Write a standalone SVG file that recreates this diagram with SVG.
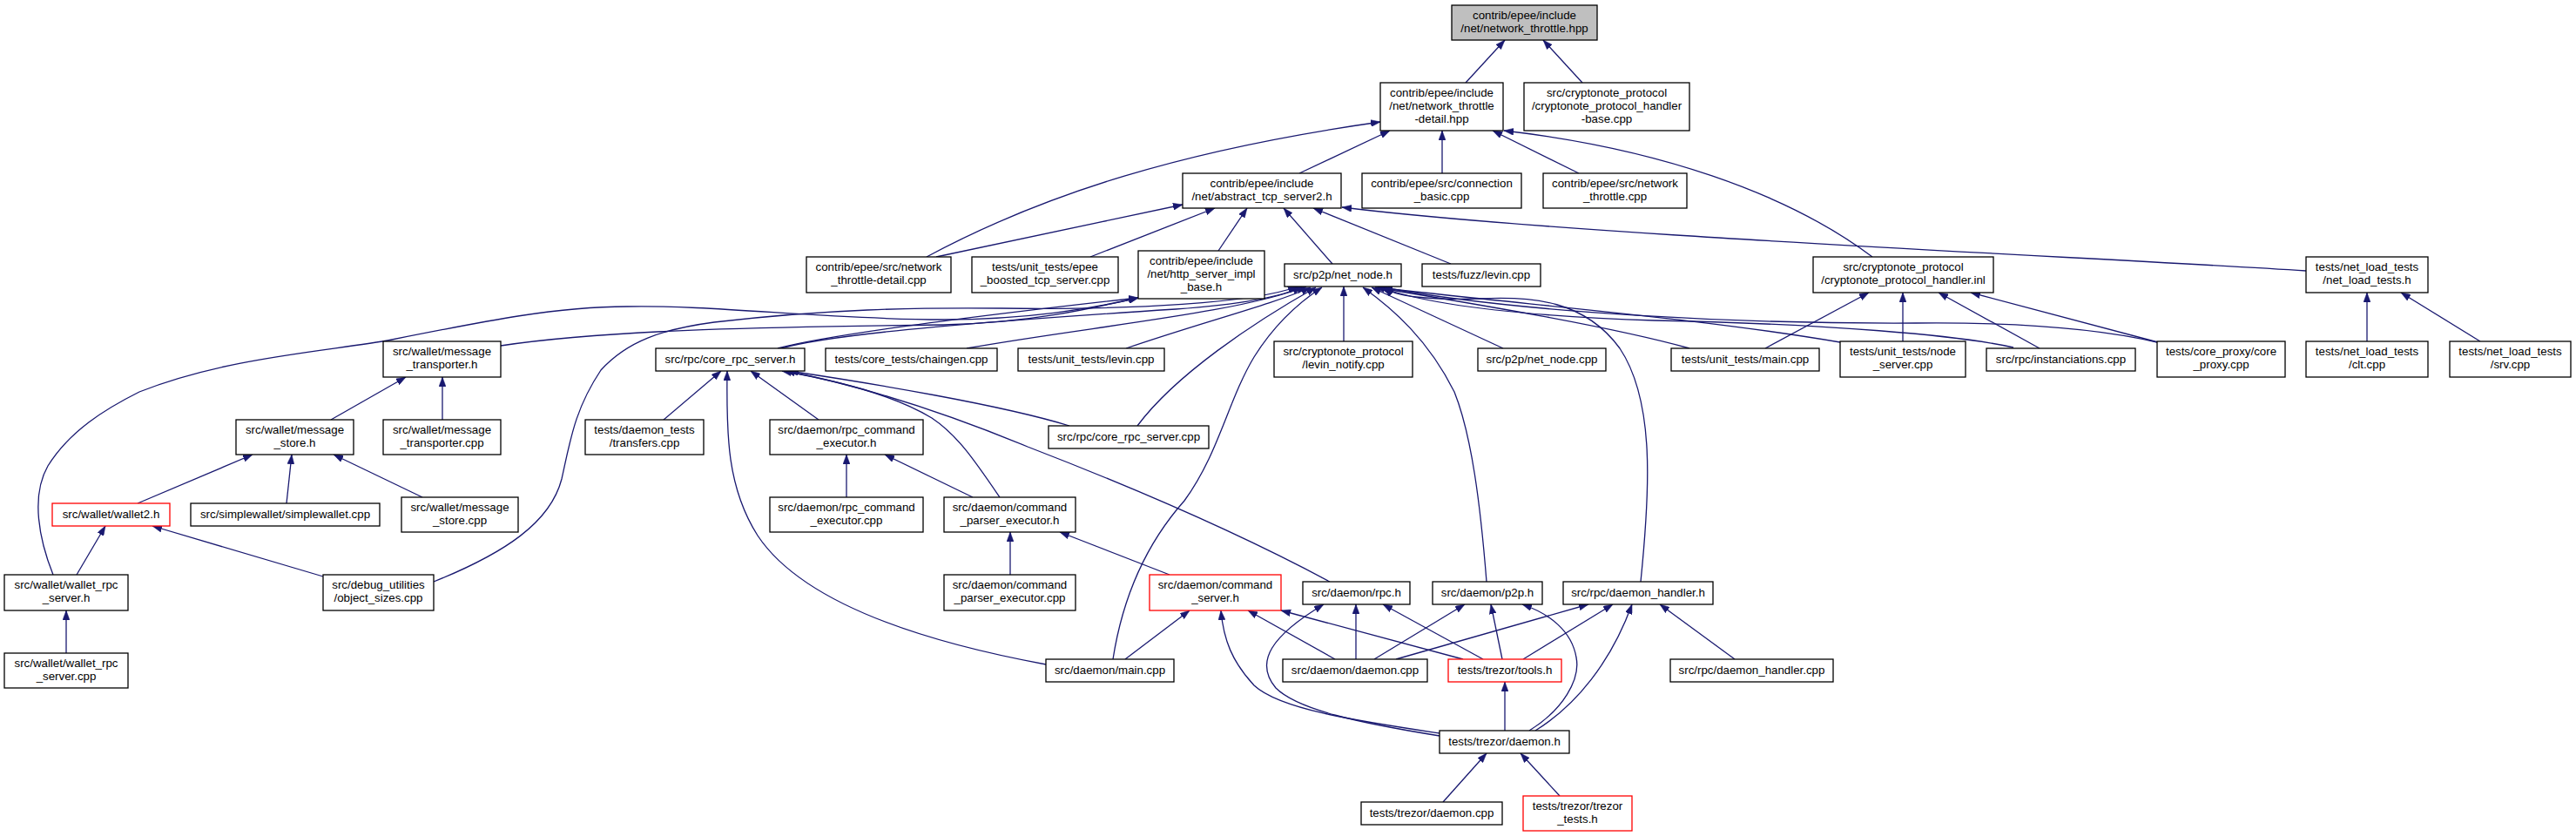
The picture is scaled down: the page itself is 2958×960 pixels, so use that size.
<svg xmlns="http://www.w3.org/2000/svg" width="2958" height="960" viewBox="0 0 2958 960">
<style>
rect{fill:#fff;stroke:#000;stroke-width:1.3}
.r rect{stroke:#f00}
.g rect{fill:#bfbfbf}
text{font-family:"Liberation Sans",Arial,sans-serif;font-size:13.3px;text-anchor:middle;fill:#000}
.e path{fill:none;stroke:#191970;stroke-width:1.3;marker-end:url(#a)}
</style>
<defs>
<marker id="a" viewBox="0 0 11 8" refX="11" refY="4" markerWidth="11" markerHeight="8" markerUnits="userSpaceOnUse" orient="auto"><path d="M0,0L11,4L0,8z" fill="#191970" stroke="#191970" stroke-width="0.5"/></marker>
</defs>
<rect x="0" y="0" width="2958" height="960" style="fill:#fff;stroke:none"/>
<g class="e" id="edges">
<path d="M1683,95L1728,46"/>
<path d="M1817,95L1772,46"/>
<path d="M1492,199L1596,150"/>
<path d="M1656,199L1656,150"/>
<path d="M1813,199L1714,150"/>
<path d="M1064,295C1200,222 1360,172 1585,140"/>
<path d="M2150,295C2050,220 1900,170 1727,150"/>
<path d="M1075,295L1358,235"/>
<path d="M1252,295L1395,239"/>
<path d="M1399,288L1432,239"/>
<path d="M1530,303L1474,239"/>
<path d="M1666,303L1508,239"/>
<path d="M2648,311C2400,295 1800,270 1541,238"/>
<path d="M575,397C700,378 900,375 1083,373C1180,371 1250,355 1307,342"/>
<path d="M61,660C45,620 35,570 55,535C80,495 120,470 160,450C260,410 380,403 450,390C560,368 640,352 720,352C820,350 950,367 1083,367C1180,367 1250,355 1307,342"/>
<path d="M893,400C950,385 1100,365 1307,342"/>
<path d="M897,400C960,382 1150,368 1350,355C1420,350 1470,342 1495,329"/>
<path d="M498,668C580,635 632,600 645,550C655,505 660,470 690,425C720,392 760,378 820,370C950,355 1050,353 1150,354C1300,356 1440,348 1490,329"/>
<path d="M1110,400C1250,375 1420,360 1500,329"/>
<path d="M1293,400C1380,370 1460,350 1505,330"/>
<path d="M1306,489C1350,430 1440,370 1511,330"/>
<path d="M1278,757C1290,680 1320,620 1360,575C1400,520 1410,460 1440,410C1465,370 1495,345 1518,330"/>
<path d="M1543,392L1543,329"/>
<path d="M1707,668C1700,580 1690,500 1670,450C1640,390 1600,355 1565,330"/>
<path d="M1726,400L1575,330"/>
<path d="M1940,400C1850,375 1700,350 1579,330"/>
<path d="M2113,393C1950,365 1750,350 1582,330"/>
<path d="M2312,399C2250,385 2100,372 1900,368C1750,363 1640,350 1585,330"/>
<path d="M2477,393C2400,375 2300,370 2200,371C2000,372 1750,360 1588,330"/>
<path d="M1884,668C1895,560 1900,460 1860,400C1820,345 1760,340 1700,343C1640,345 1600,340 1590,330"/>
<path d="M2027,400L2146,336"/>
<path d="M2185,392L2185,336"/>
<path d="M2342,400L2226,336"/>
<path d="M2478,393L2263,336"/>
<path d="M2718,392L2718,336"/>
<path d="M2848,392L2757,336"/>
<path d="M380,482L466,433"/>
<path d="M508,482L508,433"/>
<path d="M158,578L290,522"/>
<path d="M329,578L335,522"/>
<path d="M485,571L383,522"/>
<path d="M88,660L121,604"/>
<path d="M371,662L175,604"/>
<path d="M76,750L76,701"/>
<path d="M762,482L828,426"/>
<path d="M1201,763C1050,735 920,690 870,615C835,560 834,500 835,426"/>
<path d="M940,482L862,426"/>
<path d="M1148,571C1120,530 1100,500 1070,480C1020,450 950,435 898,426"/>
<path d="M1527,668C1400,600 1250,540 1180,513C1100,480 1000,445 902,426"/>
<path d="M1228,489C1150,465 1000,440 906,426"/>
<path d="M972,571L972,522"/>
<path d="M1117,571L1016,522"/>
<path d="M1160,660L1160,611"/>
<path d="M1343,660L1217,611"/>
<path d="M1292,757L1366,701"/>
<path d="M1533,757L1433,701"/>
<path d="M1680,757L1471,701"/>
<path d="M1653,842C1560,828 1470,815 1440,787C1415,760 1405,735 1402,701"/>
<path d="M1557,757L1557,694"/>
<path d="M1703,757L1588,694"/>
<path d="M1653,845C1560,830 1490,815 1465,790C1440,760 1460,730 1520,694"/>
<path d="M1578,757L1682,694"/>
<path d="M1725,757L1712,694"/>
<path d="M1756,839C1795,815 1815,780 1810,755C1805,725 1780,705 1748,694"/>
<path d="M1603,757L1824,694"/>
<path d="M1749,757L1852,694"/>
<path d="M1763,839C1810,810 1850,760 1874,694"/>
<path d="M1992,757L1906,694"/>
<path d="M1728,839L1728,783"/>
<path d="M1657,921L1707,865"/>
<path d="M1791,914L1746,865"/>
</g>
<g id="n0" class="g"><rect x="1667" y="6" width="167" height="40"/><text x="1750.5" y="21.5">contrib/epee/include</text><text x="1750.5" y="36.5">/net/network_throttle.hpp</text></g>
<g id="n1"><rect x="1585" y="95" width="141" height="55"/><text x="1655.5" y="110.5">contrib/epee/include</text><text x="1655.5" y="125.5">/net/network_throttle</text><text x="1655.5" y="140.5">-detail.hpp</text></g>
<g id="n2"><rect x="1750" y="95" width="190" height="55"/><text x="1845" y="110.5">src/cryptonote_protocol</text><text x="1845" y="125.5">/cryptonote_protocol_handler</text><text x="1845" y="140.5">-base.cpp</text></g>
<g id="n3"><rect x="1358" y="199" width="182" height="40"/><text x="1449" y="214.5">contrib/epee/include</text><text x="1449" y="229.5">/net/abstract_tcp_server2.h</text></g>
<g id="n4"><rect x="1564" y="199" width="183" height="40"/><text x="1655.5" y="214.5">contrib/epee/src/connection</text><text x="1655.5" y="229.5">_basic.cpp</text></g>
<g id="n5"><rect x="1772" y="199" width="165" height="40"/><text x="1854.5" y="214.5">contrib/epee/src/network</text><text x="1854.5" y="229.5">_throttle.cpp</text></g>
<g id="n6"><rect x="926" y="295" width="166" height="41"/><text x="1009" y="311">contrib/epee/src/network</text><text x="1009" y="326">_throttle-detail.cpp</text></g>
<g id="n7"><rect x="1116" y="295" width="168" height="41"/><text x="1200" y="311">tests/unit_tests/epee</text><text x="1200" y="326">_boosted_tcp_server.cpp</text></g>
<g id="n8"><rect x="1307" y="288" width="145" height="55"/><text x="1379.5" y="303.5">contrib/epee/include</text><text x="1379.5" y="318.5">/net/http_server_impl</text><text x="1379.5" y="333.5">_base.h</text></g>
<g id="n9"><rect x="1475" y="303" width="134" height="26"/><text x="1542" y="319.5">src/p2p/net_node.h</text></g>
<g id="n10"><rect x="1633" y="303" width="136" height="26"/><text x="1701" y="319.5">tests/fuzz/levin.cpp</text></g>
<g id="n11"><rect x="2082" y="295" width="207" height="41"/><text x="2185.5" y="311">src/cryptonote_protocol</text><text x="2185.5" y="326">/cryptonote_protocol_handler.inl</text></g>
<g id="n12"><rect x="2648" y="295" width="140" height="41"/><text x="2718" y="311">tests/net_load_tests</text><text x="2718" y="326">/net_load_tests.h</text></g>
<g id="n13"><rect x="440" y="392" width="135" height="41"/><text x="507.5" y="408">src/wallet/message</text><text x="507.5" y="423">_transporter.h</text></g>
<g id="n14"><rect x="753" y="400" width="171" height="26"/><text x="838.5" y="416.5">src/rpc/core_rpc_server.h</text></g>
<g id="n15"><rect x="948" y="400" width="197" height="26"/><text x="1046.5" y="416.5">tests/core_tests/chaingen.cpp</text></g>
<g id="n16"><rect x="1169" y="400" width="168" height="26"/><text x="1253" y="416.5">tests/unit_tests/levin.cpp</text></g>
<g id="n17"><rect x="1463" y="392" width="159" height="41"/><text x="1542.5" y="408">src/cryptonote_protocol</text><text x="1542.5" y="423">/levin_notify.cpp</text></g>
<g id="n18"><rect x="1697" y="400" width="147" height="26"/><text x="1770.5" y="416.5">src/p2p/net_node.cpp</text></g>
<g id="n19"><rect x="1919" y="400" width="170" height="26"/><text x="2004" y="416.5">tests/unit_tests/main.cpp</text></g>
<g id="n20"><rect x="2113" y="392" width="144" height="41"/><text x="2185" y="408">tests/unit_tests/node</text><text x="2185" y="423">_server.cpp</text></g>
<g id="n21"><rect x="2281" y="400" width="171" height="26"/><text x="2366.5" y="416.5">src/rpc/instanciations.cpp</text></g>
<g id="n22"><rect x="2477" y="392" width="147" height="41"/><text x="2550.5" y="408">tests/core_proxy/core</text><text x="2550.5" y="423">_proxy.cpp</text></g>
<g id="n23"><rect x="2648" y="392" width="140" height="41"/><text x="2718" y="408">tests/net_load_tests</text><text x="2718" y="423">/clt.cpp</text></g>
<g id="n24"><rect x="2813" y="392" width="139" height="41"/><text x="2882.5" y="408">tests/net_load_tests</text><text x="2882.5" y="423">/srv.cpp</text></g>
<g id="n25"><rect x="271" y="482" width="135" height="40"/><text x="338.5" y="497.5">src/wallet/message</text><text x="338.5" y="512.5">_store.h</text></g>
<g id="n26"><rect x="440" y="482" width="135" height="40"/><text x="507.5" y="497.5">src/wallet/message</text><text x="507.5" y="512.5">_transporter.cpp</text></g>
<g id="n27"><rect x="672" y="482" width="136" height="40"/><text x="740" y="497.5">tests/daemon_tests</text><text x="740" y="512.5">/transfers.cpp</text></g>
<g id="n28"><rect x="884" y="482" width="176" height="40"/><text x="972" y="497.5">src/daemon/rpc_command</text><text x="972" y="512.5">_executor.h</text></g>
<g id="n29"><rect x="1204" y="489" width="184" height="26"/><text x="1296" y="505.5">src/rpc/core_rpc_server.cpp</text></g>
<g id="n30" class="r"><rect x="60" y="578" width="135" height="26"/><text x="127.5" y="594.5">src/wallet/wallet2.h</text></g>
<g id="n31"><rect x="219" y="578" width="217" height="26"/><text x="327.5" y="594.5">src/simplewallet/simplewallet.cpp</text></g>
<g id="n32"><rect x="461" y="571" width="134" height="40"/><text x="528" y="586.5">src/wallet/message</text><text x="528" y="601.5">_store.cpp</text></g>
<g id="n33"><rect x="884" y="571" width="176" height="40"/><text x="972" y="586.5">src/daemon/rpc_command</text><text x="972" y="601.5">_executor.cpp</text></g>
<g id="n34"><rect x="1084" y="571" width="151" height="40"/><text x="1159.5" y="586.5">src/daemon/command</text><text x="1159.5" y="601.5">_parser_executor.h</text></g>
<g id="n35"><rect x="5" y="660" width="142" height="41"/><text x="76" y="676">src/wallet/wallet_rpc</text><text x="76" y="691">_server.h</text></g>
<g id="n36"><rect x="371" y="660" width="127" height="41"/><text x="434.5" y="676">src/debug_utilities</text><text x="434.5" y="691">/object_sizes.cpp</text></g>
<g id="n37"><rect x="1084" y="660" width="151" height="41"/><text x="1159.5" y="676">src/daemon/command</text><text x="1159.5" y="691">_parser_executor.cpp</text></g>
<g id="n38" class="r"><rect x="1320" y="660" width="151" height="41"/><text x="1395.5" y="676">src/daemon/command</text><text x="1395.5" y="691">_server.h</text></g>
<g id="n39"><rect x="1496" y="668" width="123" height="26"/><text x="1557.5" y="684.5">src/daemon/rpc.h</text></g>
<g id="n40"><rect x="1645" y="668" width="126" height="26"/><text x="1708" y="684.5">src/daemon/p2p.h</text></g>
<g id="n41"><rect x="1795" y="668" width="172" height="26"/><text x="1881" y="684.5">src/rpc/daemon_handler.h</text></g>
<g id="n42"><rect x="5" y="750" width="142" height="40"/><text x="76" y="765.5">src/wallet/wallet_rpc</text><text x="76" y="780.5">_server.cpp</text></g>
<g id="n43"><rect x="1201" y="757" width="147" height="26"/><text x="1274.5" y="773.5">src/daemon/main.cpp</text></g>
<g id="n44"><rect x="1473" y="757" width="166" height="26"/><text x="1556" y="773.5">src/daemon/daemon.cpp</text></g>
<g id="n45" class="r"><rect x="1663" y="757" width="130" height="26"/><text x="1728" y="773.5">tests/trezor/tools.h</text></g>
<g id="n46"><rect x="1918" y="757" width="187" height="26"/><text x="2011.5" y="773.5">src/rpc/daemon_handler.cpp</text></g>
<g id="n47"><rect x="1653" y="839" width="149" height="26"/><text x="1727.5" y="855.5">tests/trezor/daemon.h</text></g>
<g id="n48"><rect x="1563" y="921" width="162" height="26"/><text x="1644" y="937.5">tests/trezor/daemon.cpp</text></g>
<g id="n49" class="r"><rect x="1749" y="914" width="125" height="40"/><text x="1811.5" y="929.5">tests/trezor/trezor</text><text x="1811.5" y="944.5">_tests.h</text></g>
</svg>
